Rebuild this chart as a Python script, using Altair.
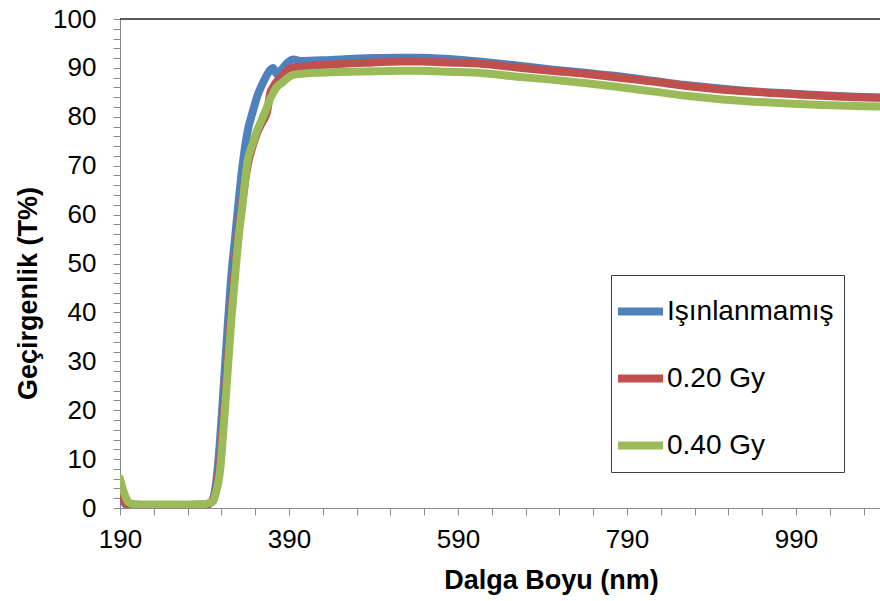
import altair as alt
import pandas as pd

wavelength = [190, 195, 200, 205, 215, 240, 270, 290, 296, 300, 304, 308, 312, 317, 322, 326, 330, 335,
              341, 347, 353, 358, 364, 368, 371, 376, 382, 388, 395, 405, 420, 440, 460, 490, 520, 545,
              580, 620, 660, 700, 740, 780, 820, 860, 900, 940, 980, 1020, 1060, 1100]

unirradiated = [2.0, 1.0, 0.4, 0.3, 0.3, 0.3, 0.3, 0.5, 0.9, 1.8, 5.5, 13, 23, 36, 48, 55, 62, 70,
                77, 81, 84.5, 86.5, 88.6, 89.6, 90.0, 88.7, 89.8, 91.0, 91.7, 91.4, 91.5, 91.6, 91.8, 92.0, 92.1, 92.1,
                91.8, 91.2, 90.5, 89.7, 89.0, 88.3, 87.4, 86.5, 85.8, 85.2, 84.8, 84.4, 84.1, 83.9]

dose_020 = [4.0, 1.5, 0.6, 0.5, 0.5, 0.5, 0.5, 0.6, 1.0, 1.5, 4.0, 9, 17, 29, 41, 49, 56, 63,
            70, 74, 77, 78.8, 81, 85, 86, 87.3, 88.3, 89.5, 90.1, 90.2, 90.5, 90.7, 90.9, 91.1, 91.3, 91.3,
            91.1, 90.8, 90.1, 89.4, 88.8, 88.0, 87.2, 86.3, 85.6, 85.1, 84.7, 84.3, 84.0, 83.9]

dose_040 = [6.0, 3.0, 1.2, 0.8, 0.7, 0.7, 0.7, 0.8, 1.1, 1.4, 3.5, 7, 15, 27, 39, 47, 54.7, 62,
            71, 74.5, 77.5, 79.5, 82, 83.8, 84.8, 86.2, 87.0, 87.9, 88.6, 88.8, 89.0, 89.1, 89.2, 89.3, 89.4, 89.4,
            89.2, 88.9, 88.2, 87.6, 86.9, 86.1, 85.2, 84.3, 83.6, 83.1, 82.7, 82.4, 82.2, 82.1]

series_names = ["Işınlanmamış", "0.20 Gy", "0.40 Gy"]
series_colors = ["#4F81BD", "#C0504D", "#9BBB59"]

x_ticks = list(range(190, 1090, 40))
y_ticks = list(range(0, 101, 2))

rows = []
for name, vals in zip(series_names, [unirradiated, dose_020, dose_040]):
    for w, v in zip(wavelength, vals):
        rows.append({"nm": w, "T": v, "series": name})
df = pd.DataFrame(rows)

FONT = "Liberation Sans"

x_enc = alt.X("nm:Q", scale=alt.Scale(domain=[190, 1089.4], nice=False, zero=False),
              axis=alt.Axis(values=x_ticks, tickCount=len(x_ticks),
                            labelExpr="(datum.value - 190) % 200 == 0 ? datum.label : ''",
                            title="Dalga Boyu (nm)", grid=False, labelFlush=False, labelOverlap=False,
                            tickSize=7, labelPadding=11, labelFontSize=26, titleFontSize=27,
                            titleX=431, titleY=72, titleBaseline="middle", titleAlign="center",
                            domainColor="#8a8a8a", tickColor="#8a8a8a", format="d"))
y_enc = alt.Y("T:Q", scale=alt.Scale(domain=[0, 100], nice=False),
              axis=alt.Axis(values=y_ticks, tickCount=len(y_ticks),
                            labelExpr="datum.value % 10 == 0 ? datum.label : ''",
                            title="Geçirgenlik (T%)", grid=False, labelFlush=False, labelOverlap=False,
                            tickSize=7, labelPadding=17, labelFontSize=26, titleFontSize=27,
                            titleX=-92, titleY=274, titleAngle=-90, titleBaseline="middle", titleAlign="center",
                            domainColor="#8a8a8a", tickColor="#8a8a8a"))
color_enc = alt.Color("series:N", scale=alt.Scale(domain=series_names, range=series_colors),
                      legend=alt.Legend(title=None, orient="none", legendX=491, legendY=256,
                                        symbolType="stroke", symbolSize=2025, symbolStrokeWidth=8,
                                        symbolOffset=-7,
                                        labelFontSize=28, labelOffset=0, rowPadding=24, padding=10,
                                        strokeColor="#404040", fillColor="white", labelLimit=400,
                                        labelColor="black"))

layers = []
for name in series_names:
    layers.append(
        alt.Chart(df).transform_filter(alt.datum.series == name)
        .mark_line(strokeWidth=8, clip=True, interpolate="monotone", strokeCap="round", strokeJoin="round")
        .encode(x=x_enc, y=y_enc, color=color_enc)
    )

top_border = alt.Chart(pd.DataFrame({"top": [100]})).mark_rule(color="#222222", strokeWidth=1.5).encode(
    y=alt.Y("top:Q")
)

chart = alt.layer(*layers, top_border).properties(
    width=760, height=489,
    autosize=alt.AutoSizeParams(type="none"),
    padding={"left": 120, "top": 19, "right": 0, "bottom": 93},
).configure(font=FONT).configure_view(stroke=None).configure_axis(
    labelColor="black", titleColor="black", titleFontWeight="bold", labelFont=FONT, titleFont=FONT
).configure_legend(labelFont=FONT)

chart.save("out.html", embed_options={"renderer": "svg", "actions": False})
